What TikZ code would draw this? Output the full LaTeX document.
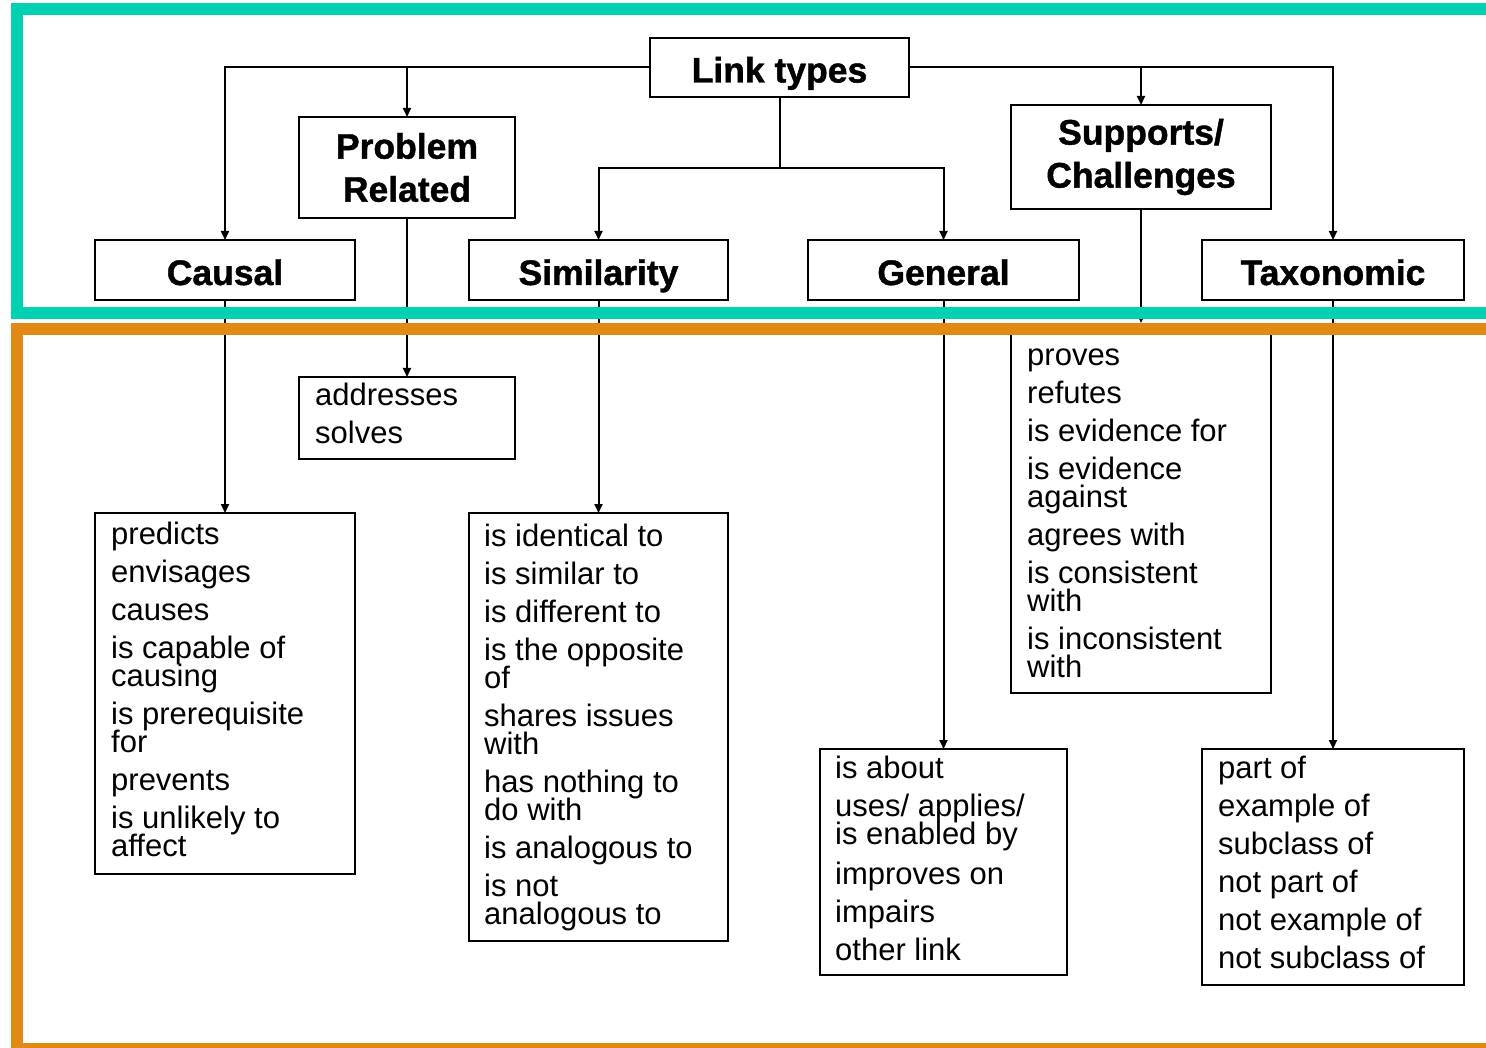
\documentclass[tikz,border=0pt]{standalone}
\usepackage{fontspec}
\setmainfont{Liberation Sans}[BoldFeatures={FakeBold=1.2}]
\usetikzlibrary{arrows.meta,calc}
\definecolor{frameteal}{RGB}{0,209,178}
\definecolor{frameorange}{RGB}{225,137,20}
\newcommand\mytightlines{\lineskiplimit=-100pt\relax\lineskip=0pt\relax}
\begin{document}
\begin{tikzpicture}[x=1pt,y=-1pt,
  box/.style={draw=black,line width=2pt,inner sep=0pt,outer sep=0pt,fill=white},
  title/.style={box,font=\fontsize{35.5}{43}\selectfont\bfseries\mytightlines,align=center},
  onetitle/.style={title,text height=30pt,text depth=0pt},
  listtext/.style={anchor=base west,inner sep=0pt,align=left,font=\fontsize{31}{28}\selectfont\mytightlines},
  conn/.style={line width=2pt,draw=black},
  arr/.style={conn,-{Triangle[length=9pt,width=8pt]}}]
\useasboundingbox (0,0) rectangle (1486,1048);
\fill[white] (0,0) rectangle (1486,1048);

% title nodes
\node[onetitle,minimum width=259pt,minimum height=59pt] (lt) at (779.5,67.5) {Link types};
\node[title,minimum width=216pt,minimum height=101pt] (pr) at (407,167.5) {Problem\\Related};
\node[title,minimum width=260pt,minimum height=104pt] (sc) at (1141,157) {Supports/\\Challenges};
\node[onetitle,minimum width=260pt,minimum height=60pt] (causal) at (225,270) {Causal};
\node[onetitle,minimum width=259pt,minimum height=60pt] (sim) at (598.5,270) {Similarity};
\node[onetitle,minimum width=271pt,minimum height=60pt] (gen) at (943.5,270) {General};
\node[onetitle,minimum width=262pt,minimum height=60pt] (tax) at (1333,270) {Taxonomic};

% list boxes
\node[box,minimum width=216pt,minimum height=82pt] (addr) at (407,418) {};
\node[box,minimum width=260pt,minimum height=361pt] (causalL) at (225,693.5) {};
\node[box,minimum width=259pt,minimum height=428pt] (simL) at (598.5,727) {};
\node[box,minimum width=260pt,minimum height=367pt] (scL) at (1141,509.5) {};
\node[box,minimum width=247pt,minimum height=226pt] (genL) at (943.5,862) {};
\node[box,minimum width=262pt,minimum height=236pt] (taxL) at (1333,867) {};

% list texts (anchored at the baseline of their last line)
\node[listtext] (addrT) at (315,443) {addresses\\[10pt]solves};
\node[listtext] (causalT) at (111,856) {predicts\\[10pt]envisages\\[10pt]causes\\[10pt]is capable of\\causing\\[10pt]is prerequisite\\for\\[10pt]prevents\\[10pt]is unlikely to\\affect};
\node[listtext] (simT) at (484,924) {is identical to\\[10pt]is similar to\\[10pt]is different to\\[10pt]is the opposite\\of\\[10pt]shares issues\\with\\[10pt]has nothing to\\do with\\[10pt]is analogous to\\[10pt]is not\\analogous to};
\node[listtext] (scT) at (1027,677) {proves\\[10pt]refutes\\[10pt]is evidence for\\[10pt]is evidence\\against\\[10pt]agrees with\\[10pt]is consistent\\with\\[10pt]is inconsistent\\with};
\node[listtext] (genT) at (835,960) {is about\\[10pt]uses/ applies/\\is enabled by\\[12pt]improves on\\[10pt]impairs\\[10pt]other link};
\node[listtext] (taxT) at (1218,968) {part of\\[10pt]example of\\[10pt]subclass of\\[10pt]not part of\\[10pt]not example of\\[10pt]not subclass of};

% connectors
\coordinate (mid) at (779.5,168);
\draw[arr] (lt.west) -| (causal.north);
\draw[arr] (lt.west -| pr.north) -- (pr.north);
\draw[arr] (lt.east) -| (tax.north);
\draw[arr] (lt.east -| sc.north) -- (sc.north);
\draw[conn] (lt.south) -- (mid);
\draw[arr] (mid) -| (sim.north);
\draw[arr] (mid) -| (gen.north);

\draw[arr] (pr.south) -- (addr.north);
\draw[arr] (causal.south) -- (causalL.north);
\draw[arr] (sim.south) -- (simL.north);
\draw[arr] (sc.south) -- ($(scL.north)+(0,-3)$);
\draw[arr] (gen.south) -- (genL.north);
\draw[arr] (tax.south) -- (taxL.north);

% coloured frames
\draw[frameteal,line width=12pt] (1500,313) -- (17,313) -- (17,9.5) -- (1500,9.5);
\draw[frameorange,line width=12pt] (1500,329) -- (17,329) -- (17,1049) -- (1500,1049);
\end{tikzpicture}
\end{document}
